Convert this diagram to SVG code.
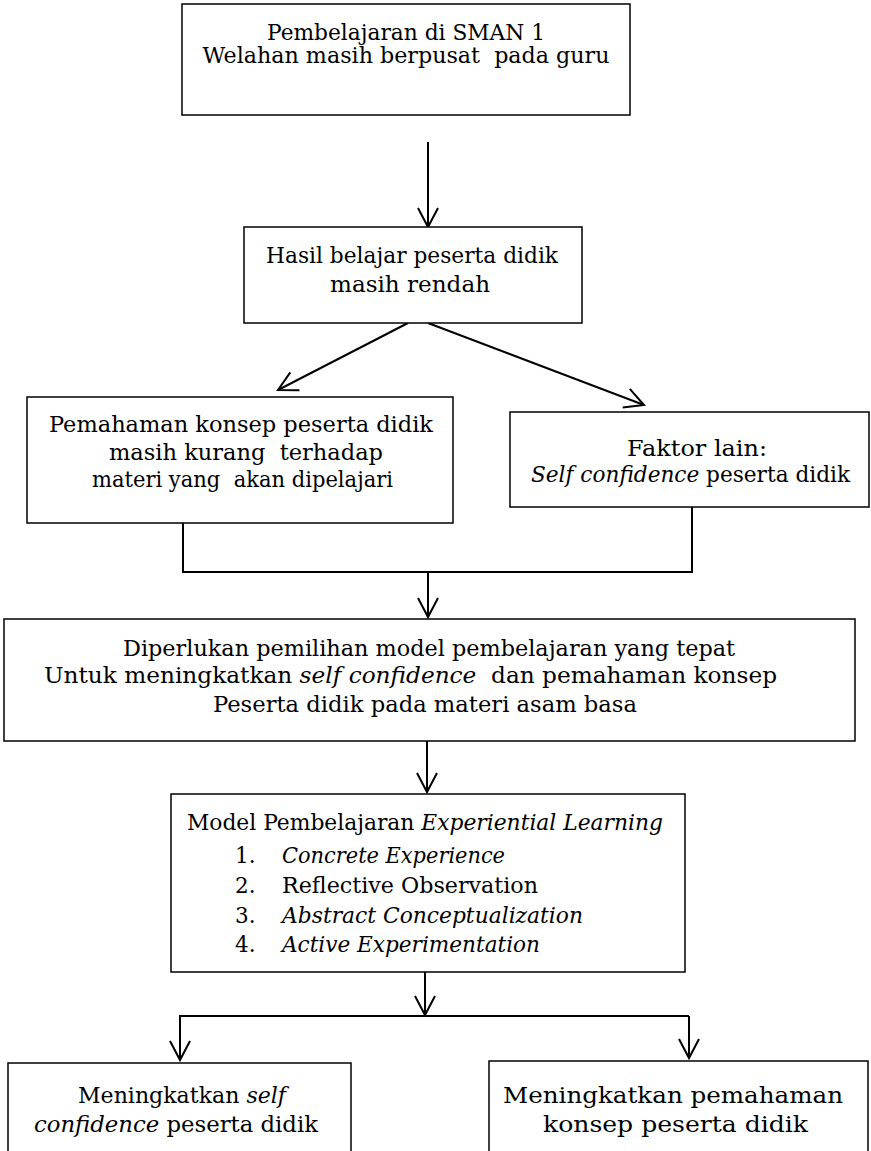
<svg xmlns="http://www.w3.org/2000/svg" width="871" height="1151" viewBox="0 0 871 1151">
<style>
.box{fill:#fff;stroke:#000;stroke-width:1.5}
.t{font-family:"DejaVu Serif","Liberation Serif",serif;font-size:21.5px;fill:#000}
.m{text-anchor:middle}
.i{font-style:italic}
.c{fill:none;stroke:#000;stroke-width:2}
</style>
<defs>
<marker id="ah" markerUnits="userSpaceOnUse" markerWidth="24" markerHeight="24" viewBox="0 0 24 24" refX="21" refY="12" orient="auto">
<path d="M2,2 L21,12 L2,22" fill="none" stroke="#000" stroke-width="2"/>
</marker>
</defs>
<g id="connectors">
<line class="c" x1="428" y1="142" x2="428" y2="227" marker-end="url(#ah)"/>
<line class="c" x1="408" y1="323" x2="278" y2="390" marker-end="url(#ah)"/>
<line class="c" x1="428" y1="323" x2="644" y2="405" marker-end="url(#ah)"/>
<polyline class="c" points="183,523 183,572 692,572 692,507"/>
<line class="c" x1="428" y1="572" x2="428" y2="617" marker-end="url(#ah)"/>
<line class="c" x1="427" y1="741" x2="427" y2="792" marker-end="url(#ah)"/>
<line class="c" x1="425" y1="972" x2="425" y2="1015" marker-end="url(#ah)"/>
<line class="c" x1="179" y1="1016" x2="689" y2="1016"/>
<line class="c" x1="180" y1="1016" x2="180" y2="1060" marker-end="url(#ah)"/>
<line class="c" x1="689" y1="1016" x2="689" y2="1058" marker-end="url(#ah)"/>
</g>
<g id="n1">
<rect class="box" x="182" y="4" width="448" height="111"/>
<text class="t m" x="406" y="40" textLength="278" lengthAdjust="spacingAndGlyphs">Pembelajaran di SMAN 1</text>
<text class="t m" x="406" y="63" xml:space="preserve" textLength="407" lengthAdjust="spacingAndGlyphs">Welahan masih berpusat  pada guru</text>
</g>
<g id="n2">
<rect class="box" x="244" y="227" width="338" height="96"/>
<text class="t m" x="412" y="263" textLength="292" lengthAdjust="spacingAndGlyphs">Hasil belajar peserta didik</text>
<text class="t m" x="410" y="292" textLength="160" lengthAdjust="spacingAndGlyphs">masih rendah</text>
</g>
<g id="n3">
<rect class="box" x="27" y="397" width="426" height="126"/>
<text class="t m" x="241" y="432" textLength="384" lengthAdjust="spacingAndGlyphs">Pemahaman konsep peserta didik</text>
<text class="t m" x="246" y="460" xml:space="preserve" textLength="274" lengthAdjust="spacingAndGlyphs">masih kurang  terhadap</text>
<text class="t m" x="242.5" y="487" xml:space="preserve" textLength="301" lengthAdjust="spacingAndGlyphs">materi yang  akan dipelajari</text>
</g>
<g id="n4">
<rect class="box" x="510" y="412" width="359" height="95"/>
<text class="t m" x="697" y="456" textLength="140" lengthAdjust="spacingAndGlyphs">Faktor lain:</text>
<text class="t m" x="690.5" y="482" textLength="319" lengthAdjust="spacingAndGlyphs"><tspan class="i">Self confidence</tspan> peserta didik</text>
</g>
<g id="n5">
<rect class="box" x="4" y="619" width="851" height="122"/>
<text class="t m" x="429" y="656" textLength="612" lengthAdjust="spacingAndGlyphs">Diperlukan pemilihan model pembelajaran yang tepat</text>
<text class="t m" x="410.5" y="683" xml:space="preserve" textLength="733" lengthAdjust="spacingAndGlyphs">Untuk meningkatkan <tspan class="i">self confidence</tspan>  dan pemahaman konsep</text>
<text class="t m" x="425" y="712" textLength="424" lengthAdjust="spacingAndGlyphs">Peserta didik pada materi asam basa</text>
</g>
<g id="n6">
<rect class="box" x="171" y="794" width="514" height="178"/>
<text class="t m" x="425" y="830" textLength="476" lengthAdjust="spacingAndGlyphs">Model Pembelajaran <tspan class="i">Experiential Learning</tspan></text>
<text class="t" x="235" y="863">1.</text><text class="t i" x="282" y="863" textLength="223" lengthAdjust="spacingAndGlyphs">Concrete Experience</text>
<text class="t" x="235" y="893">2.</text><text class="t" x="282" y="893" textLength="256" lengthAdjust="spacingAndGlyphs">Reflective Observation</text>
<text class="t" x="235" y="923">3.</text><text class="t i" x="282" y="923" textLength="301" lengthAdjust="spacingAndGlyphs">Abstract Conceptualization</text>
<text class="t" x="235" y="952">4.</text><text class="t i" x="282" y="952" textLength="258" lengthAdjust="spacingAndGlyphs">Active Experimentation</text>
</g>
<g id="n7">
<rect class="box" x="8" y="1063" width="343" height="100"/>
<text class="t m" x="182" y="1103" textLength="208" lengthAdjust="spacingAndGlyphs">Meningkatkan <tspan class="i">self</tspan></text>
<text class="t m" x="176" y="1132" textLength="284" lengthAdjust="spacingAndGlyphs"><tspan class="i">confidence</tspan> peserta didik</text>
</g>
<g id="n8">
<rect class="box" x="489" y="1061" width="379" height="102"/>
<text class="t m" x="673" y="1103" textLength="340" lengthAdjust="spacingAndGlyphs">Meningkatkan pemahaman</text>
<text class="t m" x="675.5" y="1132" textLength="265" lengthAdjust="spacingAndGlyphs">konsep peserta didik</text>
</g>
</svg>
